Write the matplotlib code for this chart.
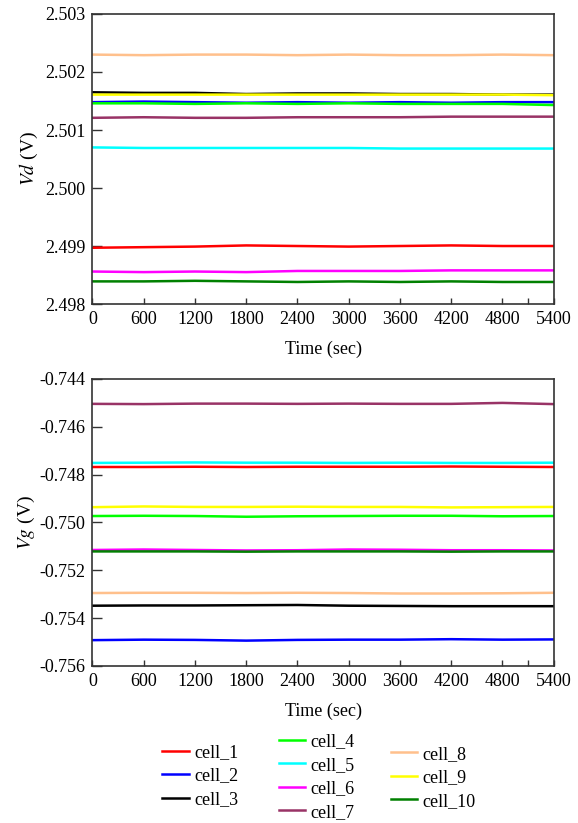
import matplotlib.pyplot as plt
from matplotlib.ticker import FixedLocator

plt.rcParams["font.family"] = ["Liberation Serif", "DejaVu Serif"]
plt.rcParams["mathtext.fontset"] = "stix"

time_s = [0, 600, 1200, 1800, 2400, 3000, 3600, 4200, 4800, 5400]

cells = ["cell_1", "cell_2", "cell_3", "cell_4", "cell_5",
         "cell_6", "cell_7", "cell_8", "cell_9", "cell_10"]
colors = ["#ff0000", "#0000ff", "#000000", "#00ff00", "#00ffff",
          "#ff00ff", "#993366", "#ffc08c", "#ffff00", "#008000"]

# drain voltage per cell (V)
vd_1 = [2.49897, 2.49898, 2.49899, 2.49901, 2.49900, 2.49899, 2.49900, 2.49901, 2.49900, 2.49900]
vd_2 = [2.50148, 2.50149, 2.50148, 2.50147, 2.50148, 2.50147, 2.50148, 2.50147, 2.50148, 2.50148]
vd_3 = [2.50165, 2.50164, 2.50164, 2.50162, 2.50163, 2.50163, 2.50162, 2.50162, 2.50161, 2.50161]
vd_4 = [2.50146, 2.50146, 2.50145, 2.50146, 2.50145, 2.50146, 2.50145, 2.50145, 2.50145, 2.50143]
vd_5 = [2.50070, 2.50069, 2.50069, 2.50069, 2.50069, 2.50069, 2.50068, 2.50068, 2.50068, 2.50068]
vd_6 = [2.49856, 2.49855, 2.49856, 2.49855, 2.49857, 2.49857, 2.49857, 2.49858, 2.49858, 2.49858]
vd_7 = [2.50121, 2.50122, 2.50121, 2.50121, 2.50122, 2.50122, 2.50122, 2.50123, 2.50123, 2.50123]
vd_8 = [2.50230, 2.50229, 2.50230, 2.50230, 2.50229, 2.50230, 2.50229, 2.50229, 2.50230, 2.50229]
vd_9 = [2.50161, 2.50161, 2.50161, 2.50161, 2.50161, 2.50161, 2.50161, 2.50161, 2.50161, 2.50160]
vd_10 = [2.49839, 2.49839, 2.49840, 2.49839, 2.49838, 2.49839, 2.49838, 2.49839, 2.49838, 2.49838]

# gate voltage per cell (V)
vg_1 = [-0.74768, -0.74768, -0.74767, -0.74768, -0.74767, -0.74767, -0.74767, -0.74766, -0.74767, -0.74768]
vg_2 = [-0.75492, -0.75490, -0.75491, -0.75494, -0.75491, -0.75490, -0.75490, -0.75488, -0.75490, -0.75489]
vg_3 = [-0.75348, -0.75347, -0.75347, -0.75346, -0.75345, -0.75348, -0.75349, -0.75350, -0.75350, -0.75350]
vg_4 = [-0.74973, -0.74972, -0.74973, -0.74976, -0.74974, -0.74973, -0.74972, -0.74972, -0.74974, -0.74973]
vg_5 = [-0.74751, -0.74750, -0.74749, -0.74750, -0.74750, -0.74751, -0.74750, -0.74751, -0.74751, -0.74750]
vg_6 = [-0.75115, -0.75113, -0.75115, -0.75117, -0.75116, -0.75113, -0.75114, -0.75116, -0.75116, -0.75117]
vg_7 = [-0.74504, -0.74505, -0.74503, -0.74503, -0.74504, -0.74503, -0.74504, -0.74504, -0.74500, -0.74505]
vg_8 = [-0.75295, -0.75294, -0.75294, -0.75295, -0.75294, -0.75295, -0.75297, -0.75297, -0.75296, -0.75294]
vg_9 = [-0.74936, -0.74933, -0.74935, -0.74935, -0.74934, -0.74935, -0.74935, -0.74937, -0.74936, -0.74935]
vg_10 = [-0.75121, -0.75121, -0.75121, -0.75122, -0.75121, -0.75121, -0.75121, -0.75122, -0.75121, -0.75121]

vd = [vd_1, vd_2, vd_3, vd_4, vd_5, vd_6, vd_7, vd_8, vd_9, vd_10]
vg = [vg_1, vg_2, vg_3, vg_4, vg_5, vg_6, vg_7, vg_8, vg_9, vg_10]

x_ticks = [0, 600, 1200, 1800, 2400, 3000, 3600, 4200, 4800, 5400]
vd_ticks = [2.498, 2.499, 2.500, 2.501, 2.502, 2.503]
vg_ticks = [-0.756, -0.754, -0.752, -0.750, -0.748, -0.746, -0.744]

fig = plt.figure(figsize=(5.78, 8.23), dpi=100)
ax1 = fig.add_axes([0.160, 0.6306, 0.798, 0.3524])
ax2 = fig.add_axes([0.160, 0.1908, 0.798, 0.3487])


def style_axis(ax, yticks, fmt):
    ax.set_xlim(0, 5400)
    ax.set_xticks(x_ticks)
    ax.xaxis.set_minor_locator(FixedLocator([5100]))
    ax.set_ylim(yticks[0], yticks[-1])
    ax.set_yticks(yticks)
    ax.set_yticklabels([fmt.format(v) for v in yticks])
    ax.tick_params(axis="both", which="major", direction="in", labelsize=13,
                   width=1.0, color="#333333", pad=5)
    ax.tick_params(axis="x", which="major", length=4)
    ax.tick_params(axis="y", which="major", length=7, right=False)
    ax.tick_params(axis="x", which="minor", direction="in", length=4, width=1.0,
                   color="#333333")
    for sp in ax.spines.values():
        sp.set_linewidth(1.2)
        sp.set_color("#333333")
    ax.set_xlabel("Time (sec)", fontsize=13, labelpad=9)


for name, col, ys in zip(cells, colors, vd):
    ax1.plot(time_s, ys, color=col, linewidth=1.8, label=name)
style_axis(ax1, vd_ticks, "{:.3f}")
ax1.set_ylabel("$Vd$ (V)", fontsize=14, labelpad=4)

for name, col, ys in zip(cells, colors, vg):
    ax2.plot(time_s, ys, color=col, linewidth=1.8, label=name)
style_axis(ax2, vg_ticks, "{:.3f}")
ax2.set_ylabel("$Vg$ (V)", fontsize=14, labelpad=2)

# legend split into three staggered columns
handles = ax1.get_lines()
groups = [(handles[0:3], 0.281, 0.096), (handles[3:7], 0.482, 0.109), (handles[7:10], 0.676, 0.094)]
for hs, x0, y0 in groups:
    fig.legend(hs, [h.get_label() for h in hs], loc="upper left",
               bbox_to_anchor=(x0, y0), frameon=False, fontsize=13,
               handlelength=1.45, handletextpad=0.3, labelspacing=0.36,
               borderpad=0, borderaxespad=0)

fig.savefig("out.png", dpi=100)
